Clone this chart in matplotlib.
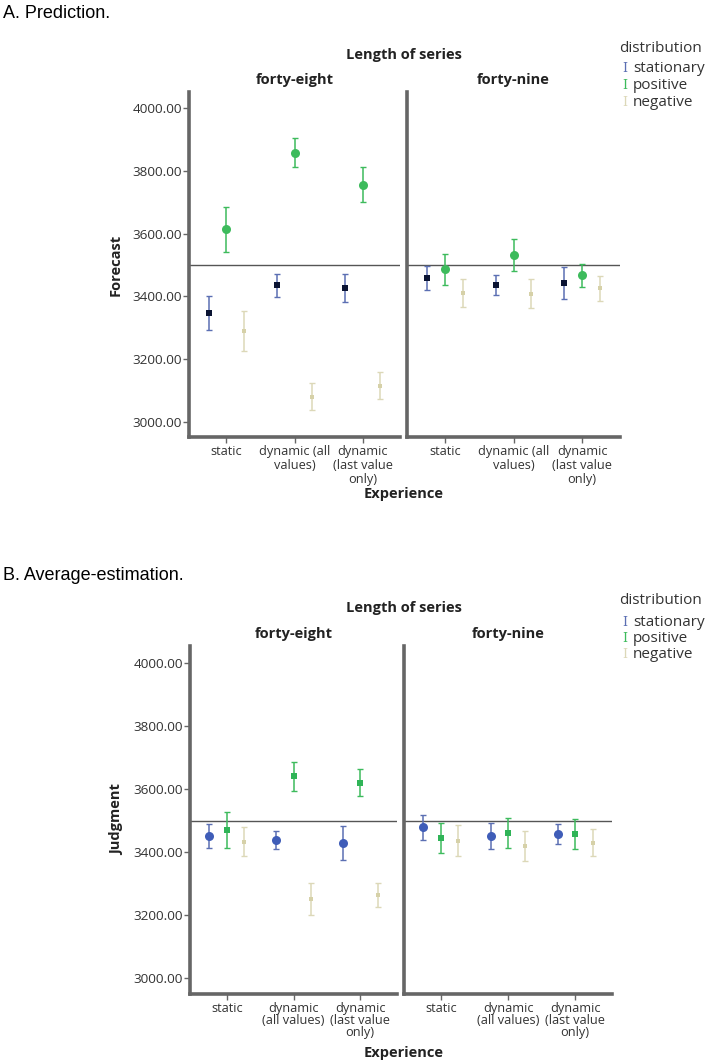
import numpy as np
import matplotlib.pyplot as plt

plt.rcParams['font.family'] = ['Open Sans', 'DejaVu Sans']

experiencias = ['static', 'dynamic (all\nvalues)', 'dynamic\n(last value\nonly)']
experiencias_b = ['static', 'dynamic\n(all values)', 'dynamic\n(last value\nonly)']
distribuicoes = ['stationary', 'positive', 'negative']
paineis = ['forty-eight', 'forty-nine']

# A. Prediction - medias e meia-largura do intervalo (forty-eight, forty-nine)
prev_media = {
    'forty-eight': {'stationary': [3347, 3435, 3426],
                    'positive': [3613, 3858, 3756],
                    'negative': [3290, 3080, 3116]},
    'forty-nine': {'stationary': [3459, 3436, 3443],
                   'positive': [3486, 3532, 3467],
                   'negative': [3411, 3409, 3426]},
}
prev_erro = {
    'forty-eight': {'stationary': [54, 36, 44],
                    'positive': [73, 46, 55],
                    'negative': [63, 43, 43]},
    'forty-nine': {'stationary': [38, 32, 50],
                   'positive': [50, 51, 37],
                   'negative': [44, 45, 40]},
}

# B. Average-estimation
jul_media = {
    'forty-eight': {'stationary': [3453, 3439, 3428],
                    'positive': [3471, 3642, 3621],
                    'negative': [3434, 3251, 3265]},
    'forty-nine': {'stationary': [3479, 3452, 3457],
                   'positive': [3446, 3462, 3458],
                   'negative': [3437, 3420, 3431]},
}
jul_erro = {
    'forty-eight': {'stationary': [38, 30, 54],
                    'positive': [58, 46, 42],
                    'negative': [47, 50, 38]},
    'forty-nine': {'stationary': [40, 42, 32],
                   'positive': [48, 48, 48],
                   'negative': [50, 48, 43]},
}

referencia = 3500
cores_barra = {'stationary': '#5b6fb3', 'positive': '#3dbb5c', 'negative': '#dcd8b8'}
deslocamento = {'stationary': -0.26, 'positive': 0.0, 'negative': 0.26}
cor_eixo = '#666666'
cor_texto = '#333333'

W, H = 709, 1062
fig = plt.figure(figsize=(W / 100, H / 100), dpi=100)


def caixa(x0, x1, ytop, ybot):
    return [x0 / W, 1 - ybot / H, (x1 - x0) / W, (ybot - ytop) / H]


def desenha(caixas, medias, erros, marcadores, cores_marc, ylim, rotulo_y, rotulos_x, esp_linha):
    eixos = []
    for i, painel in enumerate(paineis):
        ax = fig.add_axes(caixa(*caixas[i]))
        eixos.append(ax)
        pos = np.arange(len(rotulos_x))
        for d in distribuicoes:
            ax.errorbar(pos + deslocamento[d], medias[painel][d], yerr=erros[painel][d],
                        fmt='none', ecolor=cores_barra[d], elinewidth=1.1, capsize=2.4,
                        capthick=1.0, zorder=3)
            ax.plot(pos + deslocamento[d], medias[painel][d], linestyle='none',
                    marker=marcadores[d][0], markersize=marcadores[d][1], color=cores_marc[d],
                    markeredgewidth=0, zorder=4)
        ax.axhline(referencia, color='#555555', linewidth=1.0, zorder=2)
        ax.set_xlim(-0.55, 2.55)
        ax.set_ylim(*ylim)
        ax.set_yticks([3000, 3200, 3400, 3600, 3800, 4000])
        for s in ['top', 'right']:
            ax.spines[s].set_visible(False)
        for s in ['left', 'bottom']:
            ax.spines[s].set_color(cor_eixo)
            ax.spines[s].set_linewidth(2.6)
        ax.set_xticks(pos)
        ax.set_xticklabels(rotulos_x, fontsize=9.2, color=cor_texto, linespacing=esp_linha)
        ax.tick_params(axis='x', length=4, width=1, color=cor_eixo, pad=2)
        if i == 0:
            ax.set_yticklabels([f'{v:.2f}' for v in ax.get_yticks()], fontsize=9.7, color=cor_texto)
            ax.tick_params(axis='y', length=4, width=1, color=cor_eixo, pad=1)
            ax.set_ylabel(rotulo_y, fontsize=10.5, fontweight='bold', color='#222222', labelpad=7)
        else:
            ax.set_yticks([])
        ax.set_title(painel, fontsize=10.5, fontweight='bold', color='#222222', pad=6)
    return eixos


# ---- Painel A ----
marc_a = {'stationary': ('s', 4.5), 'positive': ('o', 6.5), 'negative': ('s', 2.5)}
cores_a = {'stationary': '#0b1433', 'positive': '#3dbb5c', 'negative': '#d6d1a8'}
desenha([(189, 400, 92, 437), (407, 620, 92, 437)], prev_media, prev_erro, marc_a, cores_a,
        (2952, 4051), 'Forecast', experiencias, 1.1)

# ---- Painel B ----
marc_b = {'stationary': ('o', 6.5), 'positive': ('s', 5.0), 'negative': ('s', 2.5)}
cores_b = {'stationary': '#3f5db8', 'positive': '#2fb457', 'negative': '#d6d1a8'}
desenha([(190, 397, 646, 994), (404, 612, 646, 994)], jul_media, jul_erro, marc_b, cores_b,
        (2950, 4055), 'Judgment', experiencias_b, 0.9)

# textos gerais
for titulo, y0, y_len, y_exp in [('A. Prediction.', 14, 55, 494), ('B. Average-estimation.', 576, 608, 1053)]:
    fig.text(3 / W, 1 - y0 / H, titulo, fontsize=13, family='Liberation Sans', va='center', ha='left')
    fig.text(404 / W, 1 - y_len / H, 'Length of series', fontsize=10.5, fontweight='bold',
             color='#222222', va='center', ha='center')
    fig.text(404 / W, 1 - y_exp / H, 'Experience', fontsize=10.5, fontweight='bold',
             color='#222222', va='center', ha='center')
    fig.text(619 / W, 1 - (y_len - 7) / H, 'distribution', fontsize=11, color=cor_texto,
             va='center', ha='left')
    for k, d in enumerate(distribuicoes):
        yy = 1 - (y_len + 14 + 16.5 * k) / H
        fig.text(625 / W, yy, 'I', fontsize=9, color=cores_barra[d], va='center', ha='center',
                 family='DejaVu Serif')
        fig.text(633 / W, yy, d, fontsize=11, color=cor_texto, va='center', ha='left')

fig.savefig('out.png', dpi=100, facecolor='white')
